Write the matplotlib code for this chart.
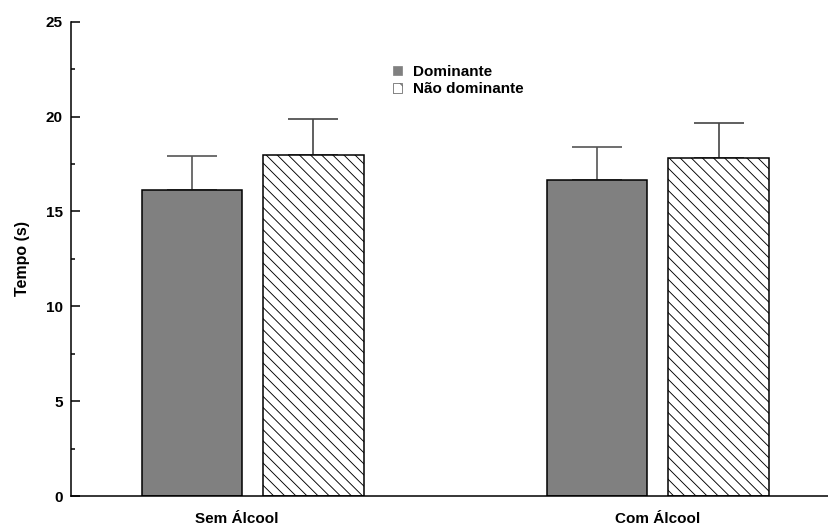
import numpy as np
import matplotlib
matplotlib.use("Agg")
import matplotlib.pyplot as plt
import matplotlib.transforms as mtransforms
from matplotlib.patches import Patch

plt.rcParams['font.family'] = ['Liberation Sans', 'DejaVu Sans']
plt.rcParams['font.weight'] = 'bold'
plt.rcParams['hatch.linewidth'] = 0.65

# data
grupos = ['Sem Álcool', 'Com Álcool']
series = ['Dominante', 'Não dominante']
dominante = [16.15, 16.65]
dominante_err = [1.75, 1.75]
nao_dominante = [17.95, 17.8]
nao_dominante_err = [1.9, 1.85]
label_pos = [-0.04, 1.0]

x = np.arange(len(grupos))
w = 0.248
off = 0.15

fig = plt.figure(figsize=(8.29, 5.25), dpi=100)
ax = fig.add_axes([71 / 829, 1 - 496 / 525, 1 - 71 / 829, (496 - 21.7) / 525])

ax.bar(x - off, dominante, w, color='#808080', edgecolor='black', linewidth=1.1, zorder=2)
ax.bar(x + off, nao_dominante, w, color='white', edgecolor='black', linewidth=1.1,
       hatch='\\\\\\', zorder=2)
ax.errorbar(x - off, dominante, yerr=[np.zeros(2), dominante_err], fmt='none',
            ecolor='#555555', elinewidth=1.2, capsize=18, capthick=1.2, zorder=1)
ax.errorbar(x + off, nao_dominante, yerr=[np.zeros(2), nao_dominante_err], fmt='none',
            ecolor='#444444', elinewidth=1.2, capsize=18, capthick=1.2, zorder=1)

ax.set_xlim(-0.448, 1.422)
ax.set_ylim(0, 25)
ax.set_yticks([0, 5, 10, 15, 20, 25])
ax.set_yticks(np.arange(2.5, 25, 5), minor=True)
ax.tick_params(axis='y', which='major', direction='in', length=6.5, width=1.1,
               labelsize=11, pad=6)
ax.tick_params(axis='y', which='minor', direction='in', length=3, width=1.1)
for t in ax.get_yticklabels():
    t.set_fontweight('bold')
ax.set_xticks([])
for s in ['top', 'right']:
    ax.spines[s].set_visible(False)
ax.spines['left'].set_linewidth(1.1)
ax.spines['bottom'].set_linewidth(1.1)

ax.set_ylabel('Tempo (s)', fontsize=11.5, fontweight='bold', labelpad=11)

trans = mtransforms.blended_transform_factory(ax.transData, ax.transAxes)
for p, g in zip(label_pos, grupos):
    ax.text(p, -0.056, g, transform=trans, ha='center', va='baseline',
            fontsize=11, fontweight='bold')

handles = [Patch(facecolor='#808080', edgecolor='#808080', linewidth=0.5),
           Patch(facecolor='white', edgecolor='#555555', linewidth=0.5, hatch='\\\\')]
leg = fig.legend(handles, series, loc='upper left', bbox_to_anchor=(393 / 829, 1 - 65 / 525),
                 frameon=False, fontsize=11, handlelength=0.6, handleheight=0.6,
                 handletextpad=0.7, labelspacing=0.2, borderpad=0, borderaxespad=0)
for t in leg.get_texts():
    t.set_fontweight('bold')

fig.savefig('out.png', dpi=100)
